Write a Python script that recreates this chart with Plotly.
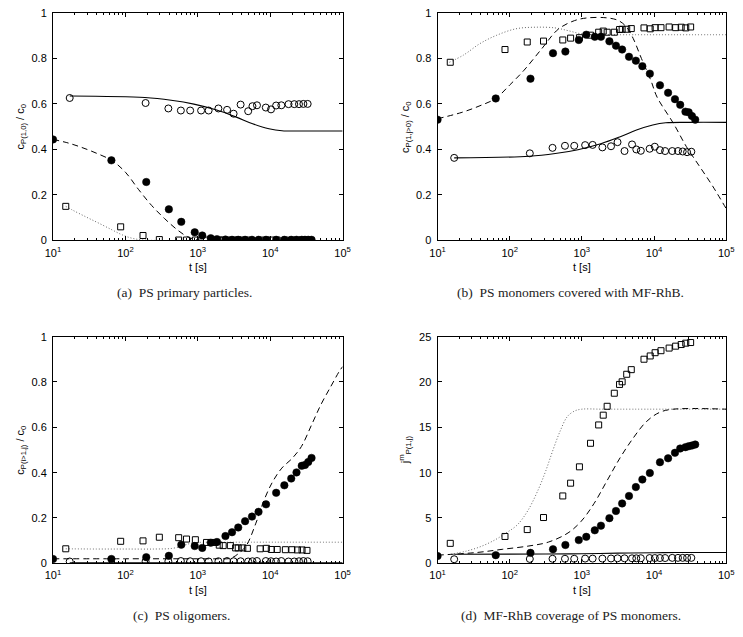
import plotly.graph_objects as go

# ---------------- measured data ----------------
# sampling times [s] of the three measurement series
T_OPEN = [17, 190, 392, 583, 784, 1110, 1410, 1925, 2535, 3120, 3900, 4960, 5680,
          6560, 8690, 10250, 12060, 14240, 17900, 21480, 24960, 28700, 32880]
T_FILL = [10, 64, 194, 398, 591, 906, 1151, 1509, 1838, 2408, 2966, 3613, 4498,
          5598, 6890, 8750, 12080, 15670, 19500, 23050, 27240, 30200, 33500, 37200]
T_SQ = [15, 86, 175, 294, 544, 698, 925, 1318, 1709, 1977, 2240, 2815, 3327, 3615,
        4181, 4838, 7260, 8850, 10350, 12480, 16190, 19920, 23780, 27520, 32160]

# (a) PS primary particles
A_OPEN = [0.626, 0.604, 0.580, 0.571, 0.571, 0.571, 0.571, 0.580, 0.574, 0.557, 0.597, 0.568,
          0.590, 0.594, 0.584, 0.576, 0.593, 0.594, 0.599, 0.599, 0.599, 0.600, 0.600]
A_FILL = [0.444, 0.352, 0.257, 0.137, 0.082, 0.036, 0.022, 0.010, 0.006, 0.004, 0.003, 0.003,
          0.003, 0.003, 0.003, 0.003, 0.003, 0.003, 0.003, 0.003, 0.003, 0.003, 0.003, 0.003]
A_SQ = [0.150, 0.060, 0.022, 0.004, 0.002, 0.002, 0.002, 0.002, 0.002, 0.002, 0.002, 0.002, 0.002,
        0.002, 0.002, 0.002, 0.002, 0.002, 0.002, 0.002, 0.002, 0.002, 0.002, 0.002, 0.002]

# (b) PS monomers covered with MF-RhB
B_OPEN = [0.363, 0.383, 0.407, 0.416, 0.416, 0.419, 0.420, 0.409, 0.414, 0.432, 0.393, 0.422,
          0.400, 0.394, 0.403, 0.412, 0.397, 0.393, 0.393, 0.393, 0.391, 0.388, 0.390]
B_FILL = [0.531, 0.624, 0.711, 0.823, 0.830, 0.881, 0.904, 0.895, 0.895, 0.875, 0.856, 0.839,
          0.807, 0.790, 0.766, 0.733, 0.682, 0.649, 0.621, 0.596, 0.566, 0.563, 0.547, 0.531]
B_SQ = [0.783, 0.839, 0.872, 0.876, 0.881, 0.889, 0.891, 0.902, 0.915, 0.920, 0.915, 0.915, 0.927,
        0.928, 0.928, 0.931, 0.934, 0.930, 0.935, 0.935, 0.938, 0.935, 0.937, 0.934, 0.938]

# (c) PS oligomers
C_OPEN = [0.008, 0.009, 0.009, 0.010, 0.009, 0.009, 0.008, 0.009, 0.010, 0.009, 0.009, 0.008,
          0.009, 0.010, 0.010, 0.009, 0.008, 0.010, 0.008, 0.008, 0.009, 0.010, 0.009]
C_FILL = [0.019, 0.019, 0.027, 0.033, 0.082, 0.076, 0.068, 0.091, 0.094, 0.120, 0.137, 0.158,
          0.186, 0.206, 0.227, 0.260, 0.311, 0.344, 0.374, 0.401, 0.430, 0.434, 0.447, 0.465]
C_SQ = [0.064, 0.097, 0.099, 0.115, 0.113, 0.107, 0.104, 0.092, 0.092, 0.080, 0.078, 0.078, 0.068,
        0.068, 0.068, 0.066, 0.064, 0.066, 0.061, 0.061, 0.060, 0.060, 0.059, 0.059, 0.057]

# (d) MF-RhB coverage of PS monomers
D_OPEN = [0.45, 0.48, 0.50, 0.50, 0.50, 0.52, 0.52, 0.52, 0.53, 0.55, 0.55, 0.55,
          0.55, 0.56, 0.58, 0.58, 0.58, 0.58, 0.60, 0.60, 0.60, 0.60, 0.60]
D_FILL = [0.80, 0.90, 1.15, 1.55, 2.02, 2.56, 2.92, 3.64, 4.15, 4.98, 5.77, 6.60,
          7.43, 8.41, 9.24, 9.96, 11.15, 11.58, 12.19, 12.66, 12.81, 12.91, 12.99, 13.10]
D_SQ = [2.20, 2.96, 3.72, 5.05, 7.43, 8.84, 10.64, 13.24, 15.26, 16.34, 17.32, 18.76, 19.73,
        20.02, 20.85, 21.36, 22.51, 22.87, 23.23, 23.45, 23.74, 23.95, 24.13, 24.28, 24.35]

# ---------------- model curves ----------------
MA_SOLID_T = [17, 186, 428, 883, 1824, 3404, 5715, 9594, 14520, 30000, 100000]
MA_SOLID = [0.635, 0.628, 0.616, 0.599, 0.573, 0.542, 0.513, 0.491, 0.482, 0.481, 0.481]
MA_DASH_T = [10, 15.5, 23.4, 39.4, 66, 100, 151, 230, 348, 525, 716, 980, 2000, 100000]
MA_DASH = [0.444, 0.430, 0.412, 0.384, 0.350, 0.300, 0.225, 0.154, 0.096, 0.046, 0.017, 0.003, 0.0, 0.0]
MA_DOT_T = [15, 19, 28.8, 43.6, 66, 90, 123, 168, 316, 100000]
MA_DOT = [0.150, 0.132, 0.103, 0.075, 0.046, 0.025, 0.010, 0.003, 0.0, 0.0]

MB_SOLID_T = [17, 186, 428, 883, 1824, 3404, 5715, 9594, 14520, 30000, 100000]
MB_SOLID = [0.363, 0.370, 0.382, 0.399, 0.425, 0.456, 0.485, 0.507, 0.517, 0.519, 0.519]
MB_DASH_T = [10, 21.8, 38.7, 63.8, 100, 158, 279, 470, 791, 1200, 2239, 3221, 4178, 5152,
             6683, 9120, 11015, 18535, 28119, 42658, 64565, 100000]
MB_DASH = [0.535, 0.563, 0.592, 0.624, 0.683, 0.748, 0.843, 0.928, 0.966, 0.978, 0.978, 0.966,
           0.937, 0.887, 0.800, 0.700, 0.630, 0.515, 0.412, 0.326, 0.240, 0.140]
MB_DOT_T = [14.6, 23, 38.7, 65.2, 122, 227, 424, 643, 975, 1476, 3162, 100000]
MB_DOT = [0.783, 0.815, 0.865, 0.901, 0.930, 0.937, 0.934, 0.922, 0.908, 0.904, 0.904, 0.904]

MC_SOLID_T = [17, 1000, 100000]
MC_SOLID = [0.002, 0.002, 0.002]
MC_DASH_T = [10, 100, 1000, 2000, 2818, 3548, 4645, 6339, 8204, 10715, 14454, 19953,
             26915, 37154, 50119, 69183, 89125, 100000]
MC_DASH = [0.020, 0.020, 0.020, 0.020, 0.022, 0.040, 0.077, 0.177, 0.278, 0.358, 0.420, 0.462,
           0.515, 0.610, 0.700, 0.782, 0.845, 0.868]
MC_DOT_T = [15, 39.8, 100, 251, 447, 631, 794, 1000, 3162, 100000]
MC_DOT = [0.064, 0.063, 0.063, 0.063, 0.066, 0.078, 0.088, 0.092, 0.093, 0.093]

MD_SOLID_T = [17, 316, 1000, 3162, 10000, 20000, 100000]
MD_SOLID = [1.0, 1.02, 1.06, 1.12, 1.17, 1.19, 1.19]
MD_DASH_T = [10, 34.8, 80.2, 184.5, 344, 643, 975, 1476, 2239, 3396, 5152, 7816, 11830, 17950, 100000]
MD_DASH = [0.9, 1.19, 1.55, 1.91, 2.34, 3.35, 4.62, 6.6, 9.13, 11.65, 13.82, 15.62, 16.63, 16.99, 17.0]
MD_DOT_T = [15.2, 25.1, 39.8, 63.1, 87.1, 126, 178, 251, 316, 398, 501, 631, 794, 1000, 1995, 100000]
MD_DOT = [1.0, 1.35, 1.85, 2.6, 3.3, 4.2, 5.8, 8.2, 10.2, 12.5, 14.6, 16.2, 16.8, 17.0, 17.0, 17.0]

X_TICKS = [10, 100, 1000, 10000, 100000]
X_TICKTEXT = ["10<sup>1</sup>", "10<sup>2</sup>", "10<sup>3</sup>", "10<sup>4</sup>", "10<sup>5</sup>"]

CAPTIONS = ["(a)  PS primary particles.", "(b)  PS monomers covered with MF-RhB.",
            "(c)  PS oligomers.", "(d)  MF-RhB coverage of PS monomers."]
YTITLES = ["c<sub>P(1,0)</sub> / c<sub>0</sub>", "c<sub>P(1,j>0)</sub> / c<sub>0</sub>",
           "c<sub>P(i>1,j)</sub> / c<sub>0</sub>", "j<sup>m</sup><sub>P(1,j)</sub>"]

# ---------------- figure ----------------
W, H = 743, 637
# plot boxes in pixels: (left, right, top, bottom)
BOXES = [(46, 342, 7, 239), (439, 734, 7, 239), (46, 342, 337, 568), (439, 734, 337, 568)]
CAPTION_X = [180, 575, 178, 575]

fig = go.Figure()

panels = [
    (A_OPEN, A_FILL, A_SQ, (MA_SOLID_T, MA_SOLID), (MA_DASH_T, MA_DASH), (MA_DOT_T, MA_DOT)),
    (B_OPEN, B_FILL, B_SQ, (MB_SOLID_T, MB_SOLID), (MB_DASH_T, MB_DASH), (MB_DOT_T, MB_DOT)),
    (C_OPEN, C_FILL, C_SQ, (MC_SOLID_T, MC_SOLID), (MC_DASH_T, MC_DASH), (MC_DOT_T, MC_DOT)),
    (D_OPEN, D_FILL, D_SQ, (MD_SOLID_T, MD_SOLID), (MD_DASH_T, MD_DASH), (MD_DOT_T, MD_DOT)),
]

tick_font = dict(family="Liberation Sans, Arial, sans-serif", size=11, color="black")

for i, (yo, yf, ys, sol, das, dot) in enumerate(panels):
    n = i + 1
    xa = "x" if n == 1 else f"x{n}"
    ya = "y" if n == 1 else f"y{n}"
    common = dict(xaxis=xa, yaxis=ya, showlegend=False, hoverinfo="skip")
    # model curves
    fig.add_trace(go.Scatter(x=dot[0], y=dot[1], mode="lines", line_shape="spline",
                             line=dict(color="#666666", width=1, dash="1px,2px"), **common))
    fig.add_trace(go.Scatter(x=das[0], y=das[1], mode="lines", line_shape="spline",
                             line=dict(color="black", width=1, dash="6px,4px"), **common))
    fig.add_trace(go.Scatter(x=sol[0], y=sol[1], mode="lines", line_shape="spline",
                             line=dict(color="black", width=1.1), **common))
    # measurements
    fig.add_trace(go.Scatter(x=T_SQ, y=ys, mode="markers",
                             marker=dict(symbol="square-open", size=6, color="black",
                                         line=dict(width=1, color="black")), **common))
    fig.add_trace(go.Scatter(x=T_OPEN, y=yo, mode="markers",
                             marker=dict(symbol="circle-open", size=7, color="black",
                                         line=dict(width=1, color="black")), **common))
    fig.add_trace(go.Scatter(x=T_FILL, y=yf, mode="markers",
                             marker=dict(symbol="circle", size=7.5, color="black",
                                         line=dict(width=0.5, color="black")), **common))

    l, r, t, b = BOXES[i]
    xdom = [l / W, r / W]
    ydom = [1 - b / H, 1 - t / H]
    xkey = "xaxis" if n == 1 else f"xaxis{n}"
    ykey = "yaxis" if n == 1 else f"yaxis{n}"
    fig.layout[xkey] = dict(
        type="log", range=[1, 5], domain=xdom, anchor=ya,
        tickmode="array", tickvals=X_TICKS, ticktext=X_TICKTEXT,
        showline=True, linecolor="black", linewidth=1,
        mirror="ticks", ticks="inside", ticklen=4, tickcolor="black", showgrid=False,
        zeroline=False, tickfont=tick_font, ticklabelstandoff=2,
        minor=dict(ticks="inside", ticklen=2, tickcolor="black", dtick="D1", showgrid=False),
    )
    if n == 4:
        yr, yd = [0, 25], 5
    else:
        yr, yd = [0, 1], 0.2
    fig.layout[ykey] = dict(
        range=yr, dtick=yd, domain=ydom, anchor=xa, showline=True, linecolor="black",
        linewidth=1, mirror="ticks", ticks="inside", ticklen=4, tickcolor="black",
        showgrid=False, zeroline=False, tickfont=tick_font, ticklabelstandoff=3,
    )

    cx = (l + r) / 2
    # x-axis title
    fig.add_annotation(text="t [s]", x=cx / W, y=1 - (b + 27) / H, xref="paper", yref="paper",
                       xanchor="center", yanchor="middle", showarrow=False,
                       font=dict(family="Liberation Sans, Arial", size=11, color="black"))
    # y-axis title
    fig.add_annotation(text=YTITLES[i], x=(l - 33) / W, y=1 - (t + b) / 2 / H,
                       xref="paper", yref="paper", xanchor="center", yanchor="middle",
                       showarrow=False, textangle=-90,
                       font=dict(family="Liberation Sans, Arial", size=11, color="black"))
    # caption
    fig.add_annotation(text=CAPTIONS[i], x=CAPTION_X[i] / W, y=1 - (b + 53) / H,
                       xref="paper", yref="paper", xanchor="center", yanchor="middle",
                       showarrow=False,
                       font=dict(family="Liberation Serif, Times New Roman, serif", size=13.5,
                                 color="#222222"))

fig.update_layout(width=W, height=H, margin=dict(l=0, r=0, t=0, b=0),
                  paper_bgcolor="white", plot_bgcolor="white")

fig.write_html("out.html")
